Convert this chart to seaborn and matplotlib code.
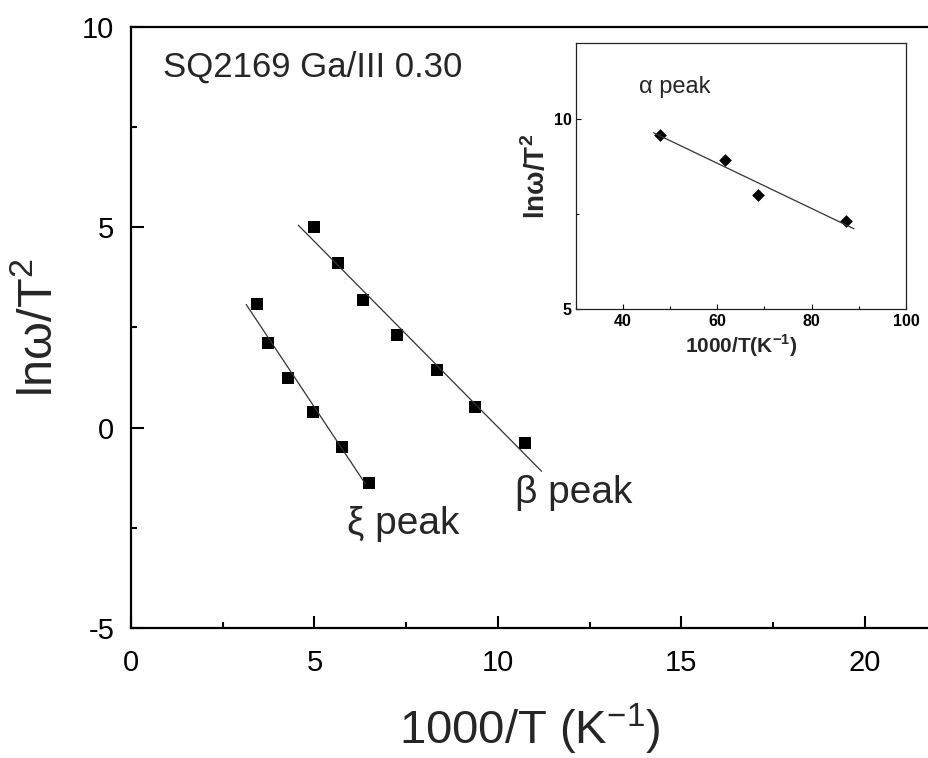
import numpy as np
import matplotlib
matplotlib.use("Agg")
import matplotlib.pyplot as plt
import seaborn as sns
from matplotlib.ticker import MultipleLocator

sns.set_style("white")
plt.rcParams['font.family'] = ['Liberation Sans', 'DejaVu Sans']
plt.rcParams['mathtext.fontset'] = 'custom'
plt.rcParams['mathtext.rm'] = 'Liberation Sans'
plt.rcParams['mathtext.bf'] = 'Liberation Sans:bold'
plt.rcParams['axes.unicode_minus'] = False

# xi peak (main panel)
xi_x = [3.43, 3.73, 4.27, 4.95, 5.75, 6.48]
xi_y = [3.09, 2.12, 1.23, 0.39, -0.475, -1.38]
xi_fit_range = [3.14, 6.39]

# beta peak (main panel)
beta_x = [5.0, 5.65, 6.31, 7.25, 8.33, 9.38, 10.73]
beta_y = [5.01, 4.11, 3.18, 2.30, 1.43, 0.51, -0.375]
beta_fit_range = [4.56, 11.19]

# alpha peak (inset)
alpha_x = [47.9, 61.7, 68.7, 87.2]
alpha_y = [9.59, 8.94, 8.0, 7.33]
alpha_fit_range = [46.5, 89.0]


def fit_line(ax, x, y, xr):
    k, b = np.polyfit(x, y, 1)
    xs = np.array(xr)
    sns.lineplot(x=xs, y=k * xs + b, ax=ax, color="#333333", lw=0.9)


fig = plt.figure(figsize=(9.29, 7.58), dpi=100)
ax = fig.add_axes([0.141, 0.1715, 0.859, 0.793])

sns.scatterplot(x=xi_x, y=xi_y, ax=ax, marker="s", s=75, color="black", linewidth=0)
sns.scatterplot(x=beta_x, y=beta_y, ax=ax, marker="s", s=75, color="black", linewidth=0)
fit_line(ax, xi_x, xi_y, xi_fit_range)
fit_line(ax, beta_x, beta_y, beta_fit_range)

ax.set_xlim(0, 21.75)
ax.set_ylim(-5, 10)
ax.xaxis.set_major_locator(MultipleLocator(5))
ax.xaxis.set_minor_locator(MultipleLocator(2.5))
ax.yaxis.set_major_locator(MultipleLocator(5))
ax.yaxis.set_minor_locator(MultipleLocator(2.5))
ax.tick_params(which="both", direction="in", bottom=True, left=True, top=False, right=False,
               width=1.5, colors="black")
ax.tick_params(which="major", length=9, labelsize=21, pad=12)
ax.tick_params(axis="x", which="major", pad=15)
ax.tick_params(which="minor", length=4.5)
for side in ["left", "bottom", "top"]:
    ax.spines[side].set_linewidth(1.6)
    ax.spines[side].set_color("black")
ax.spines["right"].set_visible(False)

ax.set_xlabel("1000/T (K$^{-1}$)", fontsize=34, labelpad=18)
ax.set_ylabel("ln\u03c9/T$^{2}$", fontsize=35, labelpad=14)

ax.text(0.87, 9.0, "SQ2169 Ga/III 0.30", fontsize=25, va="center", ha="left")
ax.text(5.89, -2.65, "\u03be peak", fontsize=28, va="baseline", ha="left")
ax.text(10.46, -1.875, "\u03b2 peak", fontsize=28, va="baseline", ha="left")

# inset
axi = fig.add_axes([0.6197, 0.5919, 0.3555, 0.3509])
sns.scatterplot(x=alpha_x, y=alpha_y, ax=axi, marker="D", s=42, color="black", linewidth=0)
fit_line(axi, alpha_x, alpha_y, alpha_fit_range)
axi.set_xlim(30, 100)
axi.set_ylim(5, 12)
axi.xaxis.set_major_locator(MultipleLocator(20))
axi.xaxis.set_minor_locator(MultipleLocator(10))
axi.yaxis.set_major_locator(MultipleLocator(5))
axi.yaxis.set_minor_locator(MultipleLocator(2.5))
axi.tick_params(which="both", direction="in", bottom=True, left=True, top=False, right=False,
                width=0.8, colors="black")
axi.tick_params(which="major", length=3.5, labelsize=11.5, pad=3)
axi.tick_params(which="minor", length=2)
for lab in axi.get_xticklabels() + axi.get_yticklabels():
    lab.set_fontweight("bold")
for side in axi.spines.values():
    side.set_linewidth(0.9)
    side.set_color("#222222")
axi.set_xlabel("1000/T(K$^{\\mathbf{-1}}$)", fontsize=15, fontweight="bold", labelpad=3)
axi.set_ylabel("ln\u03c9/T$^{\\mathbf{2}}$", fontsize=20, fontweight="bold", labelpad=2)
axi.text(43.4, 10.84, "\u03b1 peak", fontsize=17, va="center", ha="left")

fig.savefig("out.png", dpi=100)
